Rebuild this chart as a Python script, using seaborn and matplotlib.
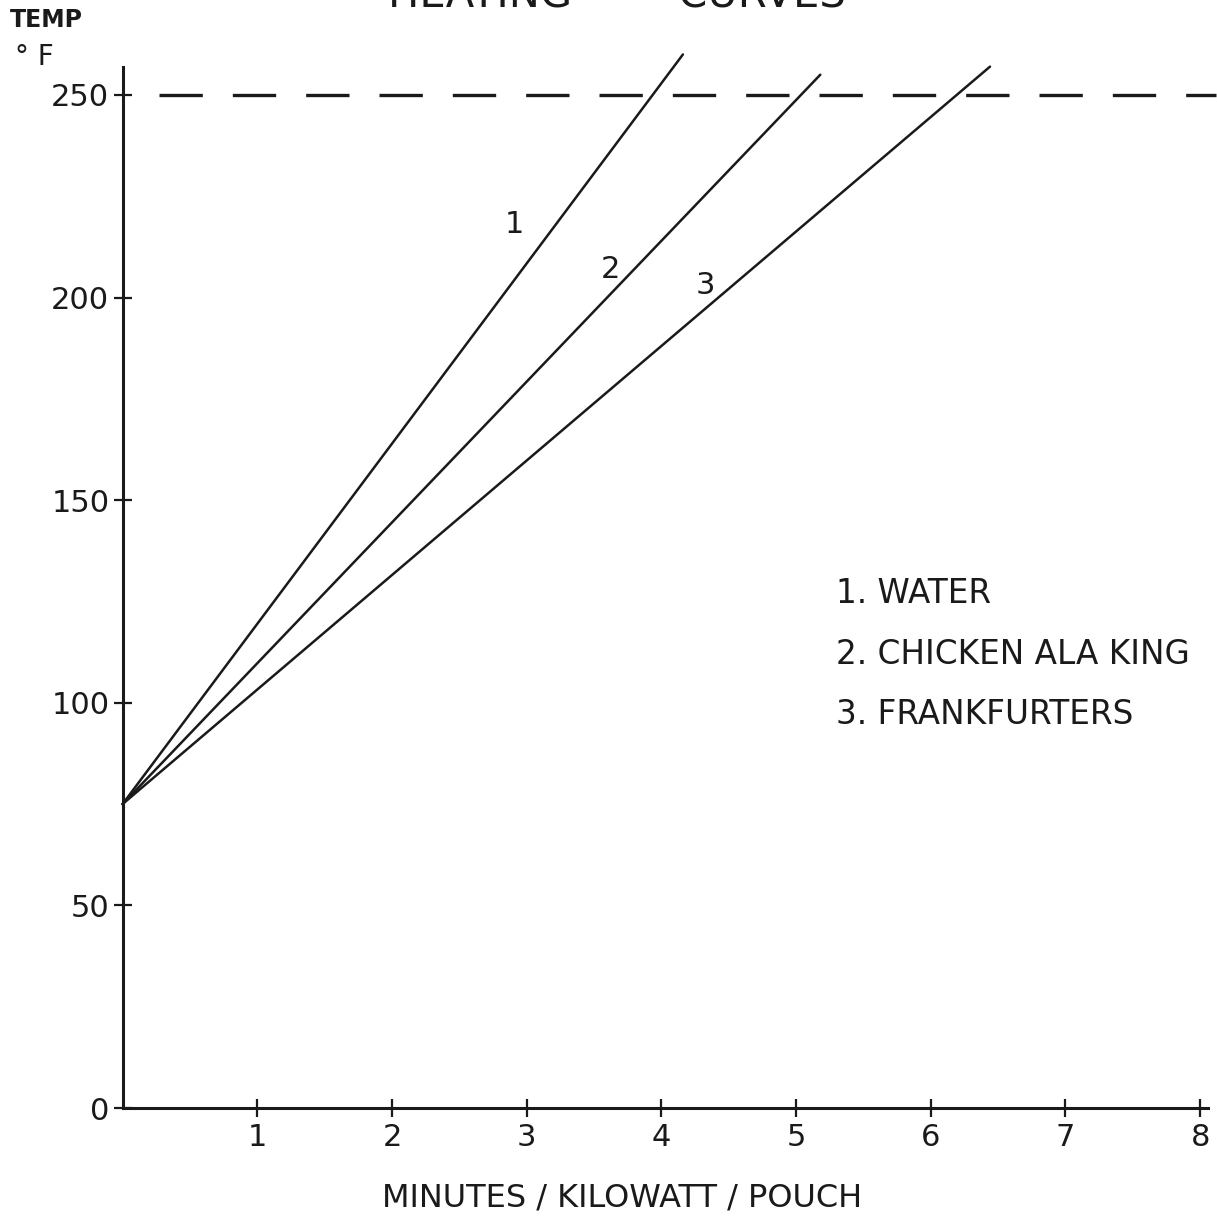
import numpy as np
import pandas as pd
import matplotlib
matplotlib.use("Agg")
import matplotlib.pyplot as plt
import seaborn as sns

# ---- data ----
series_names = ["1", "2", "3"]
legend_labels = ["1. WATER", "2. CHICKEN ALA KING", "3. FRANKFURTERS"]
minutes_1 = [0.0, 4.16]
temp_1 = [75, 260]
minutes_2 = [0.0, 5.18]
temp_2 = [75, 255]
minutes_3 = [0.0, 6.44]
temp_3 = [75, 257]
limit_temp = 250
x_ticks = [1, 2, 3, 4, 5, 6, 7, 8]
y_ticks = [0, 50, 100, 150, 200, 250]
label_pos_x = [2.91, 3.62, 4.33]
label_pos_y = [218, 207, 203]

df = pd.DataFrame({
    "minutes": minutes_1 + minutes_2 + minutes_3,
    "temp": temp_1 + temp_2 + temp_3,
    "curve": ["1"] * 2 + ["2"] * 2 + ["3"] * 2,
})

sns.set_theme(style="white")
plt.rcParams["font.family"] = ["DejaVu Sans"]

fig = plt.figure(figsize=(12.17, 12.20), dpi=100)
ax = fig.add_axes([0.1007, 0.0918, 0.8921, 0.8536])

sns.lineplot(data=df, x="minutes", y="temp", units="curve", estimator=None,
             color="#1a1a1a", linewidth=1.8, ax=ax, legend=False)
for ln in ax.lines:
    ln.set_clip_on(False)

ax.plot([0.27, 8.12], [limit_temp, limit_temp], color="#1a1a1a", linewidth=2.4,
        dashes=(13, 9), clip_on=False)

ax.set_xlim(0, 8.06)
ax.set_ylim(0, 257)
ax.set_xticks(x_ticks)
ax.set_yticks(y_ticks)
ax.set_xticklabels([str(t) for t in x_ticks])
ax.set_yticklabels([str(t) for t in y_ticks])
ax.tick_params(axis="both", direction="inout", length=13, width=1.6,
               colors="#1a1a1a", labelsize=22, bottom=True, left=True)
ax.tick_params(axis="x", pad=4)
ax.tick_params(axis="y", pad=3)
for side in ["top", "right"]:
    ax.spines[side].set_visible(False)
for side in ["left", "bottom"]:
    ax.spines[side].set_color("#1a1a1a")
    ax.spines[side].set_linewidth(2.2)
ax.set_xlabel("MINUTES / KILOWATT / POUCH", fontsize=23, color="#1a1a1a")
ax.xaxis.set_label_coords(0.46, -0.072)
ax.set_ylabel("")

for name, lx, ly in zip(series_names, label_pos_x, label_pos_y):
    ax.text(lx, ly, name, fontsize=22, color="#1a1a1a", ha="center", va="center")

for i, lab in enumerate(legend_labels):
    ax.text(5.3, 127 - i * 15, lab, fontsize=23.5, color="#1a1a1a", ha="left", va="center")

fig.text(0.008, 0.984, "TEMP", fontsize=17, color="#1a1a1a", ha="left", va="center",
         fontweight="bold")
fig.text(0.012, 0.953, "° F", fontsize=20, color="#1a1a1a", ha="left", va="center")
fig.text(0.507, 1.004, "HEATING        CURVES", fontsize=30, color="#1a1a1a",
         ha="center", va="center")

fig.savefig("out.png", dpi=100, facecolor="white")
